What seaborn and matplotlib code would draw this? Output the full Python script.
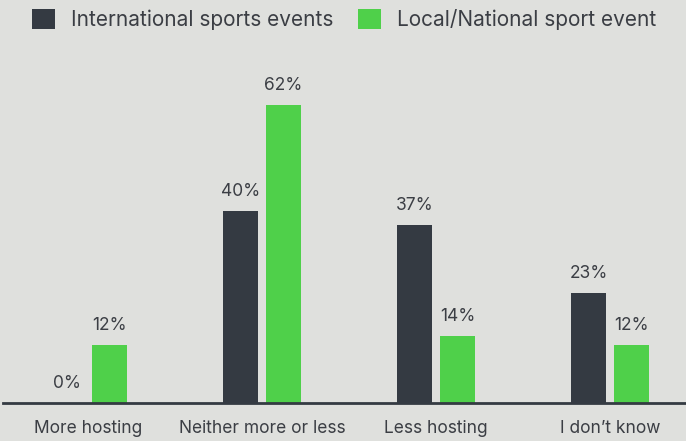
import pandas as pd
import matplotlib.pyplot as plt
import seaborn as sns
from matplotlib.patches import Patch

# 資料
categories = ['More hosting', 'Neither more or less', 'Less hosting', 'I don\u2019t know']
international = [0, 40, 37, 23]
local_national = [12, 62, 14, 12]
series_names = ['International sports events', 'Local/National sport event']

bg = '#dfe0dd'
dark = '#343a42'
green = '#4fd04a'
text_col = '#3b3e44'

df = pd.DataFrame({
    'category': categories * 2,
    'value': international + local_national,
    'series': [series_names[0]] * 4 + [series_names[1]] * 4,
})

sns.set_theme(style='white')
plt.rcParams['font.family'] = ['Inter', 'DejaVu Sans']

fig = plt.figure(figsize=(6.86, 4.41), dpi=100, facecolor=bg)
ax = fig.add_axes([0.0044, 0.0862, 0.9956, 0.778])
ax.set_facecolor(bg)

sns.barplot(data=df, x='category', y='value', hue='series', order=categories,
            hue_order=series_names, palette=[dark, green], width=0.494, gap=0.19,
            saturation=1, linewidth=0, legend=False, ax=ax)

for cont in ax.containers:
    ax.bar_label(cont, labels=[f'{v:.0f}%' for v in cont.datavalues],
                 padding=8, fontsize=12.5, color=text_col)

ax.set_xlim(-0.489, 3.437)
ax.set_ylim(0, 71.5)
ax.set_xlabel('')
ax.set_ylabel('')
ax.set_yticks([])
ax.tick_params(axis='x', length=0, pad=12, labelsize=12.5, labelcolor=text_col)
for side in ['top', 'right', 'left']:
    ax.spines[side].set_visible(False)
ax.spines['bottom'].set_color(dark)
ax.spines['bottom'].set_linewidth(2)

handles = [Patch(facecolor=dark, linewidth=0), Patch(facecolor=green, linewidth=0)]
fig.legend(handles, series_names, loc='upper left', bbox_to_anchor=(0.02, 1.022),
           ncol=2, frameon=False, fontsize=15, handlelength=1.1, handleheight=1.1,
           handletextpad=0.75, columnspacing=1.2, labelcolor=text_col)

fig.savefig('out.png', dpi=100, facecolor=bg)
